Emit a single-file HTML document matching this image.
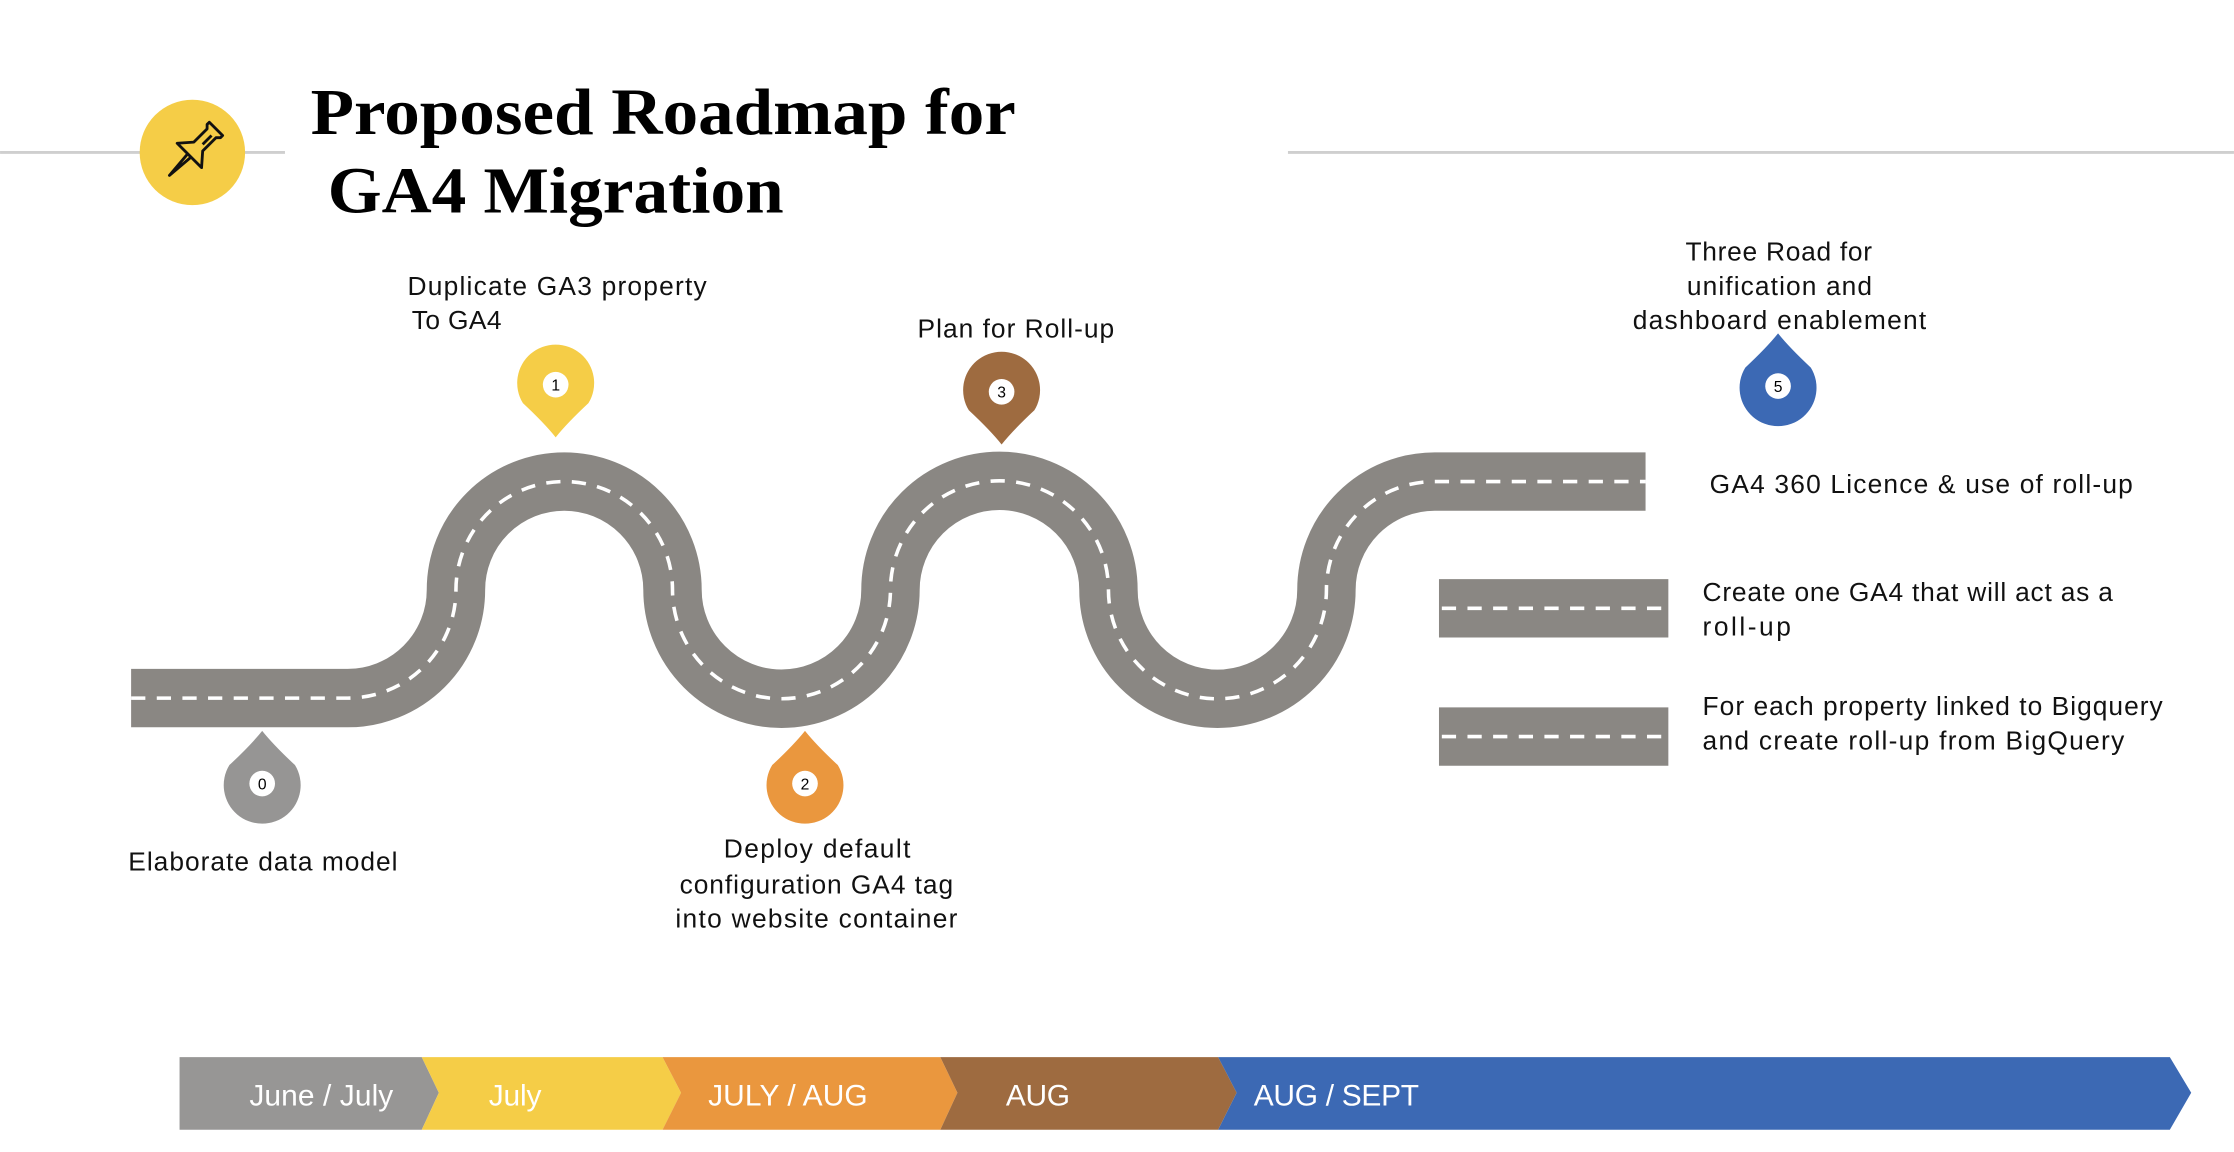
<!DOCTYPE html>
<html><head><meta charset="utf-8"><style>
html,body{margin:0;padding:0;background:#fff;}
svg{display:block;}
text{font-family:"Liberation Sans",sans-serif;}
text.serif{font-family:"Liberation Serif",serif;}
</style></head><body>
<svg width="2234" height="1152" viewBox="0 0 1568 808.6" xmlns="http://www.w3.org/2000/svg">
<defs>
<path id="pin" d="M0,-37 Q-8,-27 -23,-13 A27 27 0 1 0 23,-13 Q8,-27 0,-37 Z"/>
</defs>
<rect width="1568" height="809" fill="#fff"/>
<line x1="0" y1="107" x2="200" y2="107" stroke="#cfcfcf" stroke-width="2"/>
<line x1="904" y1="107" x2="1568" y2="107" stroke="#cfcfcf" stroke-width="2"/>
<circle cx="135" cy="107" r="37" fill="#f5cd47"/>
<g transform="translate(136,106) rotate(45) scale(1.1)" fill="none" stroke="#111" stroke-width="1.8" stroke-linejoin="round">
<path d="M-6,-20 L6,-20 L6,-18 L4,-16 L4,-4 L11,4 L-11,4 L-4,-4 L-4,-16 L-6,-18 Z"/>
<path d="M-1.5,4 L0,22 L1.5,4"/>
<line x1="1" y1="-15" x2="1" y2="-7"/>
</g>
<text class="serif" x="218" y="94" font-weight="bold" font-size="46" fill="#000" textLength="495" lengthAdjust="spacingAndGlyphs">Proposed Roadmap for</text>
<text class="serif" x="230" y="149" font-weight="bold" font-size="46" fill="#000" textLength="320" lengthAdjust="spacingAndGlyphs">GA4 Migration</text>

<g fill="none">
<path d="M92,490 L244,490 A76,76 0 0 0 320,414 A76,76 0 0 1 472,414 A76,76 0 0 0 625,414 A76,76 0 0 1 778,414 A76,76 0 0 0 931,414 A76,76 0 0 1 1007,338 L1155,338" stroke="#8a8783" stroke-width="41"/>
<path d="M92,490 L244,490 A76,76 0 0 0 320,414 A76,76 0 0 1 472,414 A76,76 0 0 0 625,414 A76,76 0 0 1 778,414 A76,76 0 0 0 931,414 A76,76 0 0 1 1007,338 L1155,338" stroke="#fff" stroke-width="2.5" stroke-dasharray="10 8"/>
<line x1="1010" y1="427" x2="1171" y2="427" stroke="#8a8783" stroke-width="41"/>
<line x1="1012" y1="427" x2="1171" y2="427" stroke="#fff" stroke-width="2.5" stroke-dasharray="10 8"/>
<line x1="1010" y1="517" x2="1171" y2="517" stroke="#8a8783" stroke-width="41"/>
<line x1="1012" y1="517" x2="1171" y2="517" stroke="#fff" stroke-width="2.5" stroke-dasharray="10 8"/>
</g>

<g font-size="11" text-anchor="middle" fill="#000">
<use href="#pin" transform="translate(390,270) rotate(180)" fill="#f5cd47"/><circle cx="390" cy="270" r="9" fill="#fff"/><text x="390" y="274">1</text>
<use href="#pin" transform="translate(703,275) rotate(180)" fill="#9e6b40"/><circle cx="703" cy="275" r="9" fill="#fff"/><text x="703" y="279">3</text>
<use href="#pin" transform="translate(184,550)" fill="#969594"/><circle cx="184" cy="550" r="9" fill="#fff"/><text x="184" y="554">0</text>
<use href="#pin" transform="translate(565,550)" fill="#ea973e"/><circle cx="565" cy="550" r="9" fill="#fff"/><text x="565" y="554">2</text>
<use href="#pin" transform="translate(1248,271)" fill="#3c69b4"/><circle cx="1248" cy="271" r="9" fill="#fff"/><text x="1248" y="275">5</text>
</g>

<g font-size="18.5" fill="#111" lengthAdjust="spacingAndGlyphs">
<text x="286" y="207" textLength="210">Duplicate GA3 property</text>
<text x="289" y="231" textLength="63">To GA4</text>
<text x="644" y="237" textLength="138">Plan for Roll-up</text>
<text x="1183" y="183" textLength="131">Three Road for</text>
<text x="1184" y="207" textLength="130">unification and</text>
<text x="1146" y="231" textLength="206">dashboard enablement</text>
<text x="1200" y="346" textLength="297">GA4 360 Licence &amp; use of roll-up</text>
<text x="1195" y="422" textLength="288">Create one GA4 that will act as a</text>
<text x="1195" y="446" textLength="62">roll-up</text>
<text x="1195" y="502" textLength="323">For each property linked to Bigquery</text>
<text x="1195" y="526" textLength="296">and create roll-up from BigQuery</text>
<text x="90" y="611" textLength="189">Elaborate data model</text>
<text x="508" y="602" textLength="131">Deploy default</text>
<text x="477" y="627" textLength="192">configuration GA4 tag</text>
<text x="474" y="651" textLength="198">into website container</text>
</g>

<polygon points="126,742 296,742 308,767 296,793 126,793" fill="#979695"/>
<polygon points="296,742 465,742 478,767 465,793 296,793 308,767" fill="#f5cd47"/>
<polygon points="465,742 660,742 672,767 660,793 465,793 478,767" fill="#ea973e"/>
<polygon points="660,742 855,742 868,767 855,793 660,793 672,767" fill="#9e6b40"/>
<polygon points="855,742 1523,742 1538,767 1523,793 855,793 868,767" fill="#3c69b4"/>
<g font-size="21" fill="#fff" lengthAdjust="spacingAndGlyphs">
<text x="175" y="776" textLength="101">June / July</text>
<text x="343" y="776" textLength="37">July</text>
<text x="497" y="776" textLength="112">JULY / AUG</text>
<text x="706" y="776" textLength="45">AUG</text>
<text x="880" y="776" textLength="116">AUG / SEPT</text>
</g>
</svg>
</body></html>
